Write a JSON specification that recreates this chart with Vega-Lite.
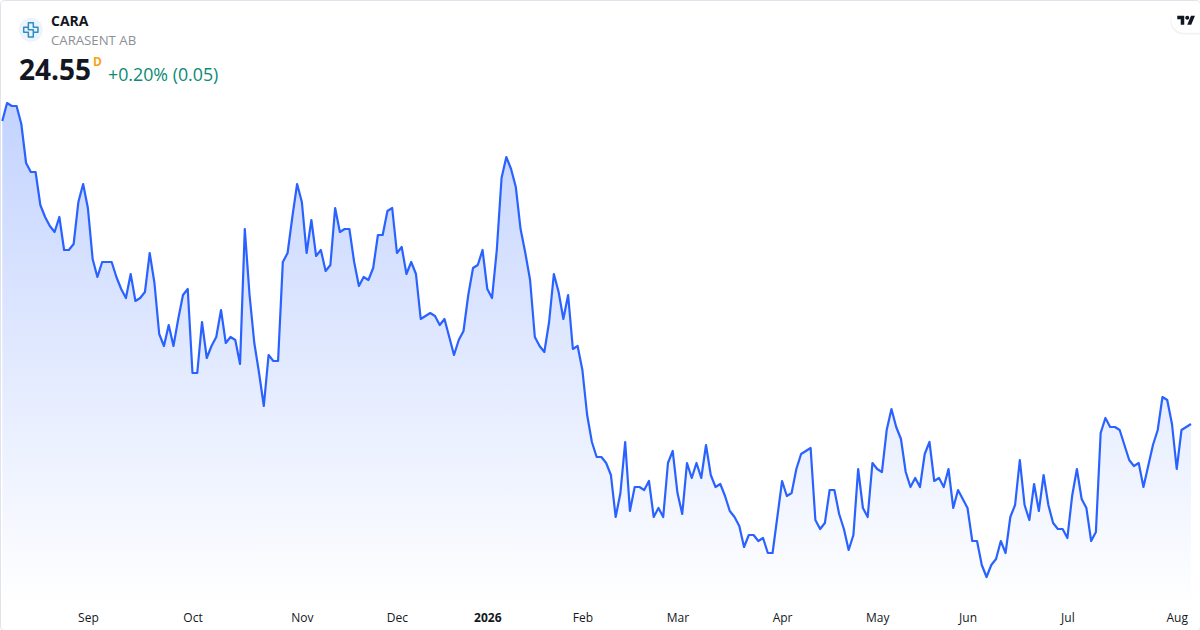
{
  "$schema": "https://vega.github.io/schema/vega-lite/v6.json",
  "width": 1200,
  "height": 630,
  "padding": 0,
  "autosize": {"type": "none"},
  "background": "#ffffff",
  "config": {
    "view": {"stroke": "#e0e3eb", "cornerRadius": 4},
    "font": "Open Sans",
    "text": {"font": "Open Sans"}
  },
  "data": {
    "values": [
      {"date":"2025-08-06","close":29.60},{"date":"2025-08-07","close":29.90},{"date":"2025-08-08","close":29.85},{"date":"2025-08-11","close":29.85},{"date":"2025-08-12","close":29.55},{"date":"2025-08-13","close":28.90},{"date":"2025-08-14","close":28.75},{"date":"2025-08-15","close":28.75},{"date":"2025-08-18","close":28.20},{"date":"2025-08-19","close":28.00},{"date":"2025-08-20","close":27.85},{"date":"2025-08-21","close":27.75},{"date":"2025-08-22","close":28.00},{"date":"2025-08-25","close":27.45},{"date":"2025-08-26","close":27.45},{"date":"2025-08-27","close":27.55},{"date":"2025-08-28","close":28.25},{"date":"2025-08-29","close":28.55},
      {"date":"2025-09-01","close":28.15},{"date":"2025-09-02","close":27.30},{"date":"2025-09-03","close":27.00},{"date":"2025-09-04","close":27.25},{"date":"2025-09-05","close":27.25},{"date":"2025-09-08","close":27.25},{"date":"2025-09-09","close":27.00},{"date":"2025-09-10","close":26.80},{"date":"2025-09-11","close":26.65},{"date":"2025-09-12","close":27.05},{"date":"2025-09-15","close":26.60},{"date":"2025-09-16","close":26.65},{"date":"2025-09-17","close":26.75},{"date":"2025-09-18","close":27.40},{"date":"2025-09-19","close":26.90},{"date":"2025-09-22","close":26.05},{"date":"2025-09-23","close":25.85},{"date":"2025-09-24","close":26.20},{"date":"2025-09-25","close":25.85},{"date":"2025-09-26","close":26.30},{"date":"2025-09-29","close":26.70},{"date":"2025-09-30","close":26.80},
      {"date":"2025-10-01","close":25.40},{"date":"2025-10-02","close":25.40},{"date":"2025-10-03","close":26.25},{"date":"2025-10-06","close":25.65},{"date":"2025-10-07","close":25.85},{"date":"2025-10-08","close":26.00},{"date":"2025-10-09","close":26.45},{"date":"2025-10-10","close":25.90},{"date":"2025-10-13","close":26.00},{"date":"2025-10-14","close":25.95},{"date":"2025-10-15","close":25.55},{"date":"2025-10-16","close":27.80},{"date":"2025-10-17","close":26.70},{"date":"2025-10-20","close":25.90},{"date":"2025-10-21","close":25.40},{"date":"2025-10-22","close":24.85},{"date":"2025-10-23","close":25.70},{"date":"2025-10-24","close":25.60},{"date":"2025-10-27","close":25.60},{"date":"2025-10-28","close":27.25},{"date":"2025-10-29","close":27.40},{"date":"2025-10-30","close":28.00},{"date":"2025-10-31","close":28.55},
      {"date":"2025-11-03","close":28.25},{"date":"2025-11-04","close":27.40},{"date":"2025-11-05","close":27.95},{"date":"2025-11-06","close":27.35},{"date":"2025-11-07","close":27.45},{"date":"2025-11-10","close":27.10},{"date":"2025-11-11","close":27.20},{"date":"2025-11-12","close":28.15},{"date":"2025-11-13","close":27.75},{"date":"2025-11-14","close":27.80},{"date":"2025-11-17","close":27.80},{"date":"2025-11-18","close":27.25},{"date":"2025-11-19","close":26.85},{"date":"2025-11-20","close":27.00},{"date":"2025-11-21","close":26.95},{"date":"2025-11-24","close":27.15},{"date":"2025-11-25","close":27.70},{"date":"2025-11-26","close":27.70},{"date":"2025-11-27","close":28.10},{"date":"2025-11-28","close":28.15},
      {"date":"2025-12-01","close":27.40},{"date":"2025-12-02","close":27.50},{"date":"2025-12-03","close":27.05},{"date":"2025-12-04","close":27.25},{"date":"2025-12-05","close":27.05},{"date":"2025-12-08","close":26.30},{"date":"2025-12-09","close":26.35},{"date":"2025-12-10","close":26.40},{"date":"2025-12-11","close":26.35},{"date":"2025-12-12","close":26.20},{"date":"2025-12-15","close":26.30},{"date":"2025-12-16","close":26.00},{"date":"2025-12-17","close":25.70},{"date":"2025-12-18","close":25.95},{"date":"2025-12-19","close":26.10},{"date":"2025-12-22","close":26.70},{"date":"2025-12-23","close":27.15},{"date":"2025-12-29","close":27.20},{"date":"2025-12-30","close":27.45},
      {"date":"2026-01-02","close":26.80},{"date":"2026-01-05","close":26.65},{"date":"2026-01-07","close":27.45},{"date":"2026-01-08","close":28.65},{"date":"2026-01-09","close":29.00},{"date":"2026-01-12","close":28.80},{"date":"2026-01-13","close":28.50},{"date":"2026-01-14","close":27.80},{"date":"2026-01-15","close":27.40},{"date":"2026-01-16","close":26.95},{"date":"2026-01-19","close":26.00},{"date":"2026-01-20","close":25.85},{"date":"2026-01-21","close":25.75},{"date":"2026-01-22","close":26.25},{"date":"2026-01-23","close":27.05},{"date":"2026-01-26","close":26.75},{"date":"2026-01-27","close":26.30},{"date":"2026-01-28","close":26.70},{"date":"2026-01-29","close":25.80},{"date":"2026-01-30","close":25.85},
      {"date":"2026-02-02","close":25.45},{"date":"2026-02-03","close":24.70},{"date":"2026-02-04","close":24.25},{"date":"2026-02-05","close":24.00},{"date":"2026-02-06","close":24.00},{"date":"2026-02-09","close":23.90},{"date":"2026-02-10","close":23.70},{"date":"2026-02-11","close":23.00},{"date":"2026-02-12","close":23.40},{"date":"2026-02-13","close":24.25},{"date":"2026-02-16","close":23.10},{"date":"2026-02-17","close":23.50},{"date":"2026-02-18","close":23.50},{"date":"2026-02-19","close":23.45},{"date":"2026-02-20","close":23.60},{"date":"2026-02-23","close":23.00},{"date":"2026-02-24","close":23.15},{"date":"2026-02-25","close":23.00},{"date":"2026-02-26","close":23.90},{"date":"2026-02-27","close":24.10},
      {"date":"2026-03-02","close":23.40},{"date":"2026-03-03","close":23.05},{"date":"2026-03-04","close":23.90},{"date":"2026-03-05","close":23.65},{"date":"2026-03-06","close":23.90},{"date":"2026-03-09","close":23.65},{"date":"2026-03-10","close":24.20},{"date":"2026-03-11","close":23.70},{"date":"2026-03-12","close":23.50},{"date":"2026-03-13","close":23.55},{"date":"2026-03-16","close":23.35},{"date":"2026-03-17","close":23.10},{"date":"2026-03-18","close":23.00},{"date":"2026-03-19","close":22.85},{"date":"2026-03-20","close":22.50},{"date":"2026-03-23","close":22.70},{"date":"2026-03-24","close":22.70},{"date":"2026-03-25","close":22.60},{"date":"2026-03-26","close":22.65},{"date":"2026-03-27","close":22.40},{"date":"2026-03-30","close":22.40},{"date":"2026-03-31","close":23.00},
      {"date":"2026-04-01","close":23.60},{"date":"2026-04-02","close":23.35},{"date":"2026-04-07","close":23.40},{"date":"2026-04-08","close":23.80},{"date":"2026-04-09","close":24.05},{"date":"2026-04-10","close":24.10},{"date":"2026-04-13","close":24.15},{"date":"2026-04-14","close":22.95},{"date":"2026-04-15","close":22.80},{"date":"2026-04-16","close":22.90},{"date":"2026-04-17","close":23.45},{"date":"2026-04-20","close":23.45},{"date":"2026-04-21","close":23.05},{"date":"2026-04-22","close":22.80},{"date":"2026-04-23","close":22.45},{"date":"2026-04-24","close":22.70},{"date":"2026-04-27","close":23.80},{"date":"2026-04-28","close":23.15},{"date":"2026-04-29","close":23.00},{"date":"2026-04-30","close":23.90},
      {"date":"2026-05-04","close":23.80},{"date":"2026-05-05","close":23.75},{"date":"2026-05-06","close":24.45},{"date":"2026-05-07","close":24.80},{"date":"2026-05-08","close":24.50},{"date":"2026-05-11","close":24.30},{"date":"2026-05-12","close":23.75},{"date":"2026-05-13","close":23.50},{"date":"2026-05-15","close":23.65},{"date":"2026-05-18","close":23.50},{"date":"2026-05-19","close":24.05},{"date":"2026-05-20","close":24.25},{"date":"2026-05-21","close":23.60},{"date":"2026-05-22","close":23.65},{"date":"2026-05-25","close":23.50},{"date":"2026-05-26","close":23.80},{"date":"2026-05-27","close":23.15},{"date":"2026-05-28","close":23.45},{"date":"2026-05-29","close":23.30},
      {"date":"2026-06-01","close":23.15},{"date":"2026-06-02","close":22.60},{"date":"2026-06-03","close":22.60},{"date":"2026-06-04","close":22.20},{"date":"2026-06-05","close":22.00},{"date":"2026-06-08","close":22.20},{"date":"2026-06-09","close":22.30},{"date":"2026-06-10","close":22.60},{"date":"2026-06-11","close":22.40},{"date":"2026-06-12","close":23.00},{"date":"2026-06-15","close":23.20},{"date":"2026-06-16","close":23.95},{"date":"2026-06-17","close":23.20},{"date":"2026-06-18","close":22.95},{"date":"2026-06-22","close":23.55},{"date":"2026-06-23","close":23.10},{"date":"2026-06-24","close":23.70},{"date":"2026-06-25","close":23.20},{"date":"2026-06-26","close":22.90},{"date":"2026-06-29","close":22.80},{"date":"2026-06-30","close":22.80},
      {"date":"2026-07-01","close":22.65},{"date":"2026-07-02","close":23.35},{"date":"2026-07-03","close":23.80},{"date":"2026-07-06","close":23.30},{"date":"2026-07-07","close":23.15},{"date":"2026-07-08","close":22.60},{"date":"2026-07-09","close":22.75},{"date":"2026-07-10","close":24.40},{"date":"2026-07-13","close":24.65},{"date":"2026-07-14","close":24.50},{"date":"2026-07-15","close":24.50},{"date":"2026-07-16","close":24.45},{"date":"2026-07-17","close":24.20},{"date":"2026-07-20","close":23.95},{"date":"2026-07-21","close":23.85},{"date":"2026-07-22","close":23.90},{"date":"2026-07-23","close":23.50},{"date":"2026-07-24","close":23.85},{"date":"2026-07-27","close":24.20},{"date":"2026-07-28","close":24.45},{"date":"2026-07-29","close":25.00},{"date":"2026-07-30","close":24.95},{"date":"2026-07-31","close":24.55},
      {"date":"2026-08-03","close":23.80},{"date":"2026-08-04","close":24.45},{"date":"2026-08-05","close":24.50},{"date":"2026-08-06","close":24.55}
    ]
  },
  "encoding": {
    "x": {
      "field": "date",
      "type": "ordinal",
      "title": null,
      "scale": {"type": "point", "range": [2.3, 1191], "padding": 0},
      "axis": {
        "values": ["2025-09-01","2025-10-01","2025-11-03","2025-12-01","2026-01-02","2026-02-02","2026-03-02","2026-04-01","2026-05-04","2026-06-01","2026-07-01","2026-08-03"],
        "labelExpr": "datum.value == '2026-01-02' ? '2026' : timeFormat(toDate(datum.value + 'T12:00:00'), '%b')",
        "labelAngle": 0,
        "labelFont": "Open Sans",
        "labelFontSize": 12,
        "labelColor": "#131722",
        "labelFontWeight": {"expr": "datum.value == '2026-01-02' ? 'bold' : 'normal'"},
        "labelOverlap": false,
        "labelPadding": 6,
        "offset": -24,
        "domain": false,
        "ticks": false,
        "grid": false
      }
    },
    "y": {
      "field": "close",
      "type": "quantitative",
      "title": null,
      "axis": null,
      "scale": {"domain": [21.1167, 31.6167], "nice": false, "zero": false}
    }
  },
  "layer": [
    {
      "mark": {
        "type": "area",
        "line": false,
        "color": {
          "gradient": "linear",
          "x1": 0, "y1": 0, "x2": 0, "y2": 1,
          "stops": [
            {"offset": 0, "color": "rgba(41,98,255,0.28)"},
            {"offset": 1, "color": "rgba(41,98,255,0)"}
          ]
        }
      },
      "encoding": {"y2": {"datum": 21.52}}
    },
    {"mark": {"type": "line", "color": "#2962ff", "strokeWidth": 2.2, "strokeJoin": "round"}},
    {
      "transform": [{"filter": "datum.date == '2025-08-14'"}],
      "mark": {"type": "point", "shape": "circle", "filled": true, "size": 576, "color": "#eef3fa", "opacity": 1},
      "encoding": {"y": {"datum": 31.12}}
    },
    {
      "transform": [{"filter": "datum.date == '2025-08-14'"}],
      "mark": {
        "type": "point",
        "filled": false,
        "size": 225,
        "opacity": 1,
        "strokeWidth": 1.5,
        "strokeJoin": "round",
        "color": "#2a8fc7",
        "shape": "M-0.33 -0.95 H0.33 V-0.33 H0.95 V0.33 H0.33 V0.95 H-0.33 V0.33 H-0.95 V-0.33 H-0.33 Z M-0.33 -0.33 V0 H0.33 V0.33"
      },
      "encoding": {"y": {"datum": 31.12}}
    },
    {
      "transform": [{"filter": "datum.date == '2025-08-20'"}],
      "mark": {"type": "text", "text": "CARA", "align": "left", "baseline": "middle", "dx": 1.15, "fontSize": 14, "fontWeight": "bold", "color": "#131722"},
      "encoding": {"y": {"datum": 31.25}}
    },
    {
      "transform": [{"filter": "datum.date == '2025-08-20'"}],
      "mark": {"type": "text", "text": "CARASENT AB", "align": "left", "baseline": "middle", "dx": 1.15, "fontSize": 13.2, "color": "#8c8f96"},
      "encoding": {"y": {"datum": 30.93}}
    },
    {
      "transform": [{"filter": "datum.date == '2025-08-12'"}],
      "mark": {"type": "text", "text": "24.55", "align": "left", "baseline": "middle", "dx": -2.3, "fontSize": 28, "fontWeight": "bold", "color": "#131722"},
      "encoding": {"y": {"datum": 30.42}}
    },
    {
      "transform": [{"filter": "datum.date == '2025-09-02'"}],
      "mark": {"type": "text", "text": "D", "align": "left", "baseline": "middle", "dx": 0.4, "fontSize": 12, "fontWeight": "bold", "color": "#f9a21a"},
      "encoding": {"y": {"datum": 30.58}}
    },
    {
      "transform": [{"filter": "datum.date == '2025-09-05'"}],
      "mark": {"type": "text", "text": "+0.20% (0.05)", "align": "left", "baseline": "middle", "dx": 1.1, "fontSize": 17.8, "color": "#0b8a76"},
      "encoding": {"y": {"datum": 30.35}}
    },
    {
      "transform": [{"filter": "datum.date == '2026-08-05'"}],
      "mark": {
        "type": "point",
        "filled": true,
        "size": 1000,
        "opacity": 0.05,
        "color": "#000000",
        "shape": "M1 -0.83 H-0.17 A0.83 0.83 0 0 0 -0.17 0.83 H1 Z"
      },
      "encoding": {"y": {"datum": 31.26}}
    },
    {
      "transform": [{"filter": "datum.date == '2026-08-05'"}],
      "mark": {
        "type": "point",
        "filled": true,
        "size": 900,
        "opacity": 1,
        "color": "#ffffff",
        "shape": "M1 -0.83 H-0.17 A0.83 0.83 0 0 0 -0.17 0.83 H1 Z"
      },
      "encoding": {"y": {"datum": 31.28}}
    },
    {
      "transform": [{"filter": "datum.date == '2026-08-05'"}],
      "mark": {
        "type": "point",
        "filled": true,
        "size": 324,
        "opacity": 1,
        "color": "#131722",
        "shape": "M-0.222 0.5 H-0.611 V-0.111 H-1 V-0.5 H-0.222 Z M0.556 0.5 H0.111 L0.528 -0.5 H0.972 Z M0.111 -0.5 A0.222 0.222 0 1 1 0.1109 -0.5"
      },
      "encoding": {"y": {"datum": 31.28}}
    }
  ]
}
